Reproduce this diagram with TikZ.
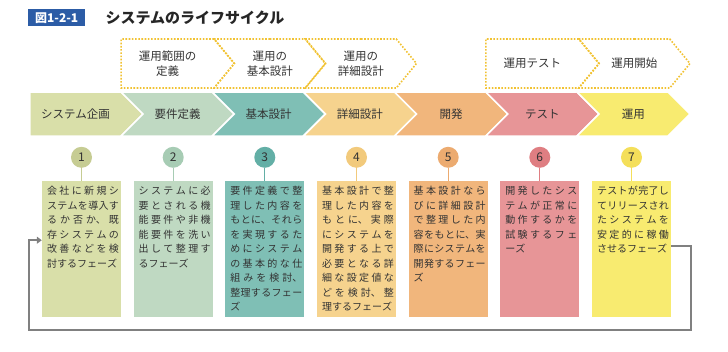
\documentclass[tikz,border=0pt]{standalone}
\usepackage{fontspec}
\setmainfont{Noto Sans CJK JP}
\XeTeXlinebreaklocale "ja"
\XeTeXlinebreakskip=0pt plus 4pt
\usetikzlibrary{positioning, arrows.meta, shapes.symbols}
\definecolor{planfill}{HTML}{D9DFA9}
\definecolor{plandot}{HTML}{C6CC93}
\definecolor{reqfill}{HTML}{BFD9C2}
\definecolor{reqdot}{HTML}{A7CCB4}
\definecolor{basicfill}{HTML}{7FBFB5}
\definecolor{basicdot}{HTML}{63AFA6}
\definecolor{detailfill}{HTML}{F6D38E}
\definecolor{detaildot}{HTML}{F2CA7C}
\definecolor{devfill}{HTML}{F1B67C}
\definecolor{devdot}{HTML}{ECAB70}
\definecolor{testfill}{HTML}{E79597}
\definecolor{testdot}{HTML}{DF7E82}
\definecolor{opfill}{HTML}{F8EB70}
\definecolor{opdot}{HTML}{F4DF5A}
\definecolor{opsline}{HTML}{F1C232}
\definecolor{badgeblue}{HTML}{2C5CA6}
\definecolor{textgray}{HTML}{333333}
\definecolor{backgray}{HTML}{808080}
\tikzset{
  phasebar/.style={
    shape=signal, signal to=east, signal from=west,
    signal pointer angle=90,
    minimum width=113pt, minimum height=44pt,
    inner sep=0pt, draw=white, line width=1.5pt,
    font=\fontsize{11.5pt}{14pt}\selectfont, text=textgray,
    anchor=east,
  },
  firstbar/.style={phasebar, signal from=nowhere},
  opsbar/.style={
    shape=signal, signal to=east, signal from=west,
    signal pointer angle=101,
    minimum width=111pt, minimum height=49pt,
    inner sep=0pt, draw=opsline, line width=1.6pt,
    dash pattern=on 1.6pt off 1.6pt,
    align=center,
    font=\fontsize{11.5pt}{15pt}\selectfont, text=textgray,
    anchor=east,
  },
  firstops/.style={opsbar, signal from=nowhere, minimum width=113pt},
  numdot/.style={
    circle, minimum size=21pt, inner sep=0pt,
    font=\fontsize{12pt}{12pt}\selectfont, text=textgray,
  },
  desc/.style={
    rectangle, minimum width=79pt, minimum height=136pt,
    inner sep=0pt, text=textgray, anchor=north,
  },
  stem/.style={line width=1.3pt},
  feedback/.style={-{Triangle[length=5pt, width=7pt]}, backgray, line width=2.5pt},
}
\newcommand{\desctext}[1]{%
  \hspace*{3pt}\parbox[t][126pt][t]{72pt}{\fontsize{10pt}{14.5pt}\selectfont
    \lineskiplimit=-\maxdimen \tolerance=10000 \hbadness=10000 #1}%
}

\begin{document}
\begin{tikzpicture}[x=1pt, y=-1pt]
\useasboundingbox (0,0) rectangle (728,351);

% Title
\node[fill=badgeblue, text=white, font=\bfseries\fontsize{12pt}{12pt}\selectfont,
  minimum width=57pt, minimum height=17pt, inner sep=0pt, anchor=north west] (badge) at (28,9) {図1-2-1};
\node[right=20pt of badge, font=\bfseries\fontsize{15pt}{15pt}\selectfont, text=black!85, inner sep=0pt] (title) {システムのライフサイクル};

% Operation steps (dotted)
\node[firstops] (o2) at (235.2,63.5) {運用範囲の\\定義};
\node[opsbar]   (o3) at (326.3,63.5) {運用の\\基本設計};
\node[opsbar]   (o4) at (417.5,63.5) {運用の\\詳細設計};
\node[firstops] (o6) at (599.9,63.5) {運用テスト};
\node[opsbar]   (o7) at (691.0,63.5) {運用開始};

% Phases
\node[firstbar, fill=planfill] (p1) at (144.0,114) {システム企画};
\node[phasebar, fill=reqfill]    (p2) at (235.2,114) {要件定義};
\node[phasebar, fill=basicfill]  (p3) at (326.3,114) {基本設計};
\node[phasebar, fill=detailfill] (p4) at (417.5,114) {詳細設計};
\node[phasebar, fill=devfill]    (p5) at (508.7,114) {開発};
\node[phasebar, fill=testfill]   (p6) at (599.9,114) {テスト};
\node[phasebar, fill=opfill]     (p7) at (691.0,114) {運用};

% Descriptions
\node[desc, fill=planfill] (b1) at (81.5,181) {\desctext{会社に新規シ\linebreak ステムを導入す\linebreak るか否か、既\linebreak 存システムの\linebreak 改善などを検\linebreak 討するフェーズ}};
\node[desc, fill=reqfill] (b2) at (173.2,181) {\desctext{システムに必\linebreak 要とされる機\linebreak 能要件や非機\linebreak 能要件を洗い\linebreak 出して整理す\linebreak るフェーズ}};
\node[desc, fill=basicfill] (b3) at (264.8,181) {\desctext{要件定義で整\linebreak 理した内容を\linebreak もとに、それら\linebreak を実現するた\linebreak めにシステム\linebreak の基本的な仕\linebreak 組みを検討、\linebreak 整理するフェー\linebreak ズ}};
\node[desc, fill=detailfill] (b4) at (356.5,181) {\desctext{基本設計で整\linebreak 理した内容を\linebreak もとに、実際\linebreak にシステムを\linebreak 開発する上で\linebreak 必要となる詳\linebreak 細な設定値な\linebreak どを検討、整\linebreak 理するフェーズ}};
\node[desc, fill=devfill] (b5) at (448.2,181) {\desctext{基本設計なら\linebreak びに詳細設計\linebreak で整理した内\linebreak 容をもとに、実\linebreak 際にシステムを\linebreak 開発するフェー\linebreak ズ}};
\node[desc, fill=testfill] (b6) at (539.8,181) {\desctext{開発したシス\linebreak テムが正常に\linebreak 動作するかを\linebreak 試験するフェ\linebreak ーズ}};
\node[desc, fill=opfill] (b7) at (631.5,181) {\desctext{テストが完了し\linebreak てリリースされ\linebreak たシステムを\linebreak 安定的に稼働\linebreak させるフェーズ}};

% Numbers
\foreach \i/\dot in {1/plandot, 2/reqdot, 3/basicdot, 4/detaildot, 5/devdot, 6/testdot, 7/opdot}
{
  \node[numdot, fill=\dot, above=13pt of b\i] (c\i) {\i};
  \draw[stem, \dot] (c\i) -- (b\i);
}

% Back to planning
\coordinate (backR) at (691,330);
\coordinate (backL) at (29,330);
\draw[feedback] ([yshift=3pt]b7.east) -| (backR) -- (backL) |- ([yshift=9pt]b1.west);

\end{tikzpicture}
\end{document}
